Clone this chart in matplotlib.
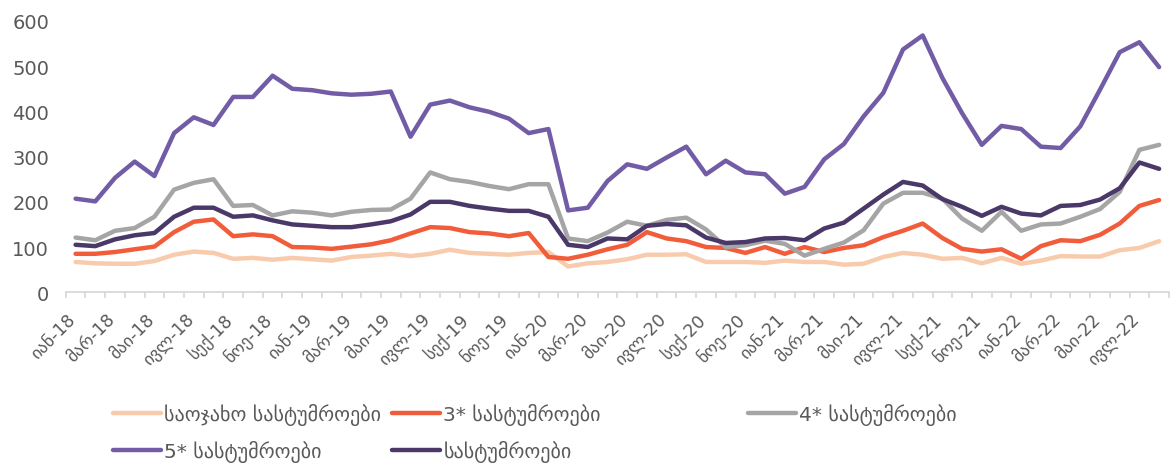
import matplotlib
matplotlib.use("Agg")
import matplotlib.pyplot as plt
import matplotlib.transforms as mtransforms

# months Jan 2018 .. Aug 2022
months = ["იან", "თებ", "მარ", "აპრ", "მაი", "ივნ", "ივლ", "აგვ", "სექ", "ოქტ", "ნოე", "დეკ"]
labels = []
for y in range(18, 23):
    for m in months:
        labels.append(f"{m}-{y}")
labels = labels[:56]

family = [67, 64, 63, 63, 69, 83, 90, 87, 74, 76, 72, 76, 73, 70, 78, 81,
          85, 80, 85, 94, 87, 85, 83, 87, 89, 57, 64, 67, 73, 83, 83, 84,
          67, 67, 67, 65, 70, 67, 67, 61, 63, 78, 87, 83, 74, 76, 64, 76,
          63, 70, 80, 79, 79, 93, 98, 113]
star3 = [85, 85, 89, 95, 101, 133, 156, 161, 124, 128, 124, 100, 99, 96, 101, 106,
         115, 130, 144, 142, 133, 130, 124, 131, 78, 74, 83, 95, 105, 133, 119, 113,
         100, 98, 87, 100, 85, 100, 89, 98, 104, 122, 136, 152, 120, 96, 90, 95,
         74, 102, 115, 113, 127, 152, 191, 204]
star4 = [121, 115, 136, 142, 167, 227, 242, 250, 191, 193, 170, 179, 176, 170, 178, 182,
         183, 207, 265, 250, 244, 235, 228, 239, 239, 119, 113, 132, 156, 147, 160, 165,
         139, 100, 104, 114, 107, 81, 96, 110, 137, 196, 220, 220, 207, 163, 136, 178,
         136, 150, 152, 167, 184, 222, 315, 326]
star5 = [207, 201, 253, 289, 257, 352, 387, 370, 432, 432, 479, 450, 447, 440, 437, 439,
         444, 344, 415, 424, 409, 399, 384, 352, 361, 181, 187, 246, 283, 273, 298, 322,
         261, 291, 265, 261, 218, 233, 294, 328, 389, 441, 537, 568, 474, 396, 326, 368,
         361, 322, 319, 367, 448, 531, 553, 498]
total = [105, 102, 117, 126, 131, 167, 187, 187, 167, 170, 159, 150, 147, 144, 144, 150,
         157, 172, 200, 200, 191, 185, 180, 180, 167, 105, 100, 119, 117, 147, 151, 148,
         121, 109, 111, 119, 120, 115, 141, 154, 185, 216, 244, 236, 206, 189, 169, 189,
         174, 170, 191, 193, 205, 230, 287, 273]

series = [
    ("საოჯახო სასტუმროები", family, "#F8CBAD"),
    ("3* სასტუმროები", star3, "#F15D3B"),
    ("4* სასტუმროები", star4, "#A5A5A5"),
    ("5* სასტუმროები", star5, "#735CA6"),
    ("სასტუმროები", total, "#4A3869"),
]

plt.rcParams['font.family'] = ['DejaVu Sans']
fig = plt.figure(figsize=(11.74, 4.64), dpi=100)
ax = fig.add_axes([0.056, 0.368, 0.9397, 0.5846])

x = list(range(len(labels)))
lines = {}
for name, vals, col in series:
    ln, = ax.plot(x, vals, color=col, lw=3.2, label=name,
                  solid_capstyle="round", solid_joinstyle="round")
    lines[name] = ln

ax.set_ylim(0, 600)
ax.set_xlim(-0.5, len(labels) - 0.5)
ax.set_yticks(range(0, 601, 100))
ax.tick_params(axis="y", length=0, labelsize=14, labelcolor="#595959", pad=12)

ax.set_xticks([i - 0.5 for i in range(len(labels) + 1)], minor=True)
ax.set_xticks(x[::2])
ax.set_xticklabels(labels[::2], rotation=45, ha="right", rotation_mode="anchor")
ax.tick_params(axis="x", which="major", length=0, labelsize=12.5, labelcolor="#595959", pad=4)
ax.tick_params(axis="x", which="minor", length=4, color="#D9D9D9", width=1.3)

# nudge rotated labels down-left along their baseline
shift = mtransforms.ScaledTranslation(-9 / 100, -12 / 100, fig.dpi_scale_trans)
for lab in ax.get_xticklabels():
    lab.set_transform(lab.get_transform() + shift)

for s in ["top", "right", "left"]:
    ax.spines[s].set_visible(False)
ax.spines["bottom"].set_color("#D9D9D9")
ax.spines["bottom"].set_linewidth(1.3)

# legend: three columns placed separately, rows filled left to right
columns = [
    (113, ["საოჯახო სასტუმროები", "5* სასტუმროები"]),
    (392, ["3* სასტუმროები", "სასტუმროები"]),
    (748, ["4* სასტუმროები"]),
]
for xpix, names in columns:
    leg = fig.legend([lines[n] for n in names], names, loc="upper left",
                     bbox_to_anchor=(xpix / 1174, 1 - 404 / 464), frameon=False,
                     fontsize=14.5, handlelength=2.4, handletextpad=0.15,
                     labelspacing=0.76, borderpad=0, borderaxespad=0)
    for t in leg.get_texts():
        t.set_color("#595959")

fig.savefig("out.png", dpi=100)
